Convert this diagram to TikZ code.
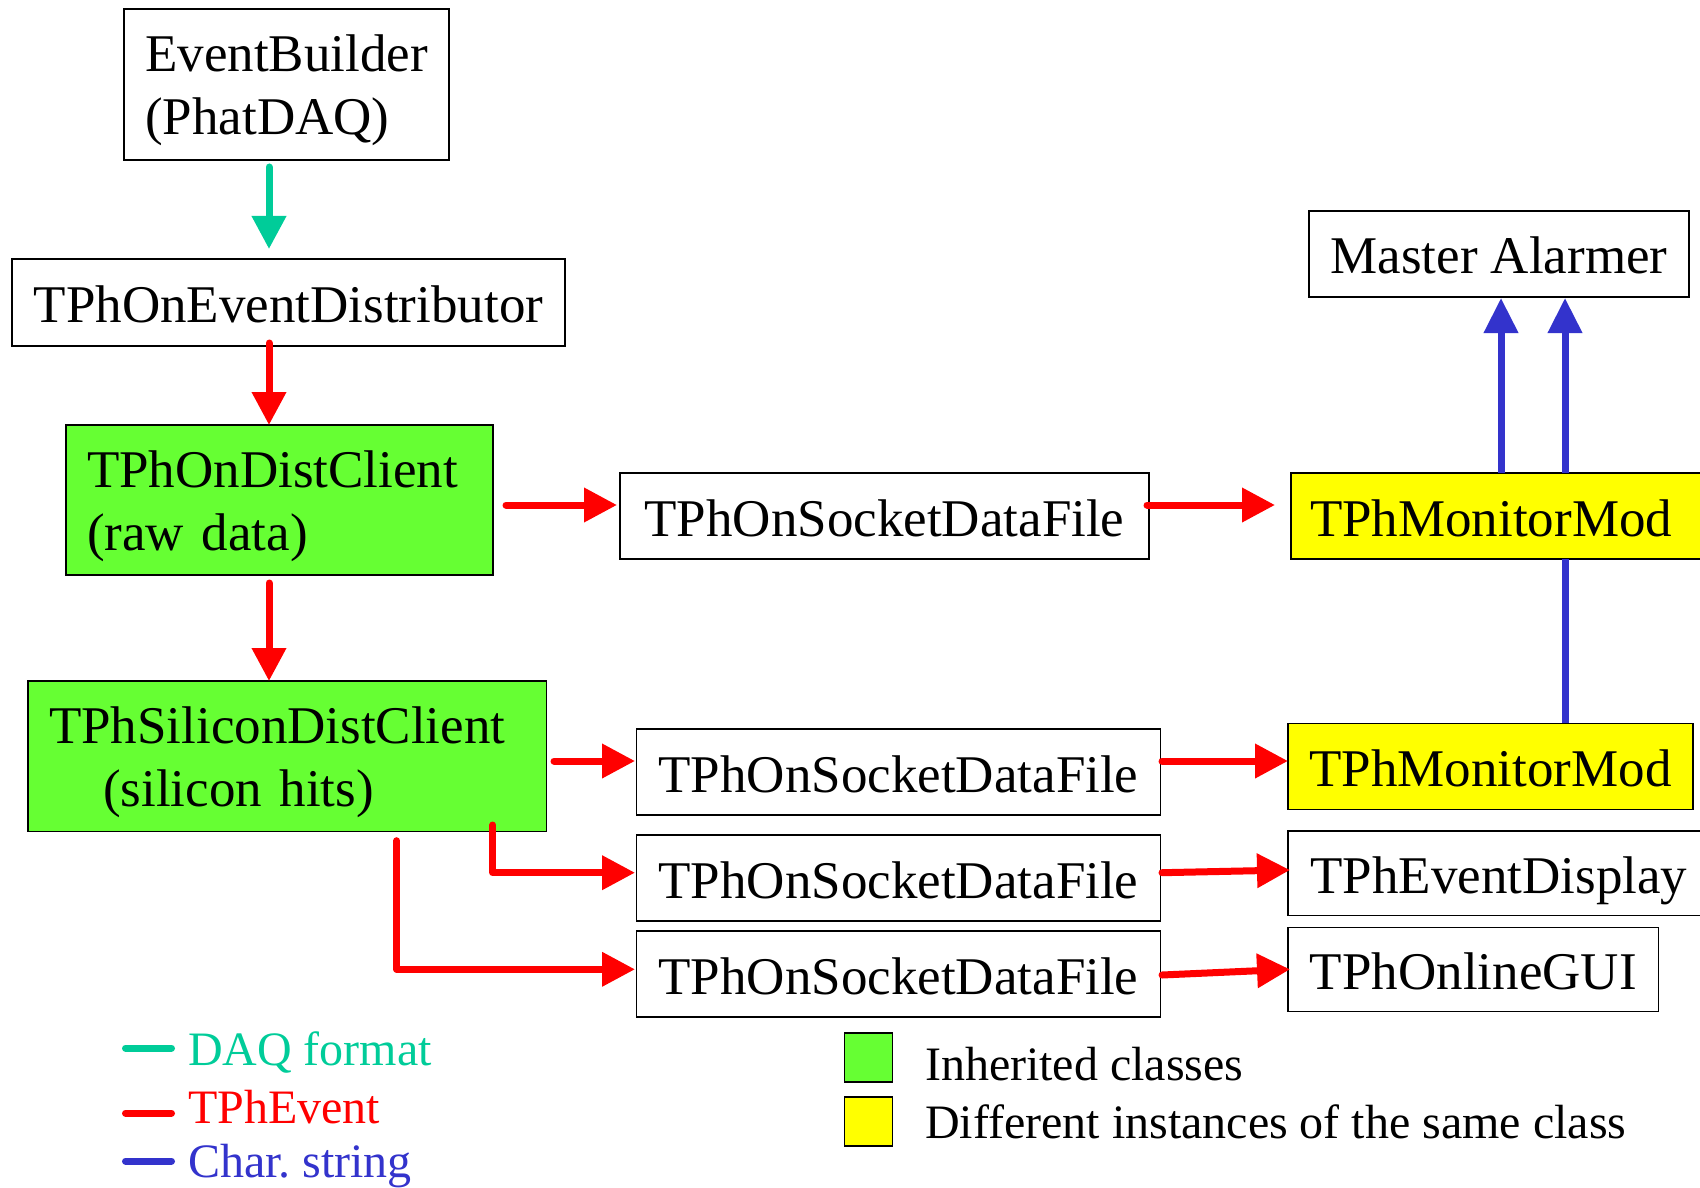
\documentclass[tikz,border=0pt]{standalone}
\usepackage{fontspec}
\setmainfont{Liberation Serif}
\usetikzlibrary{arrows.meta,calc}
\definecolor{daq}{RGB}{0,204,153}
\definecolor{evt}{RGB}{255,0,0}
\definecolor{chr}{RGB}{51,51,204}
\definecolor{inh}{RGB}{102,255,51}
\definecolor{inst}{RGB}{255,255,0}
\newcommand\mainfs{\fontsize{26.5pt}{31.5pt}\selectfont\frenchspacing}
\newcommand\legfs{\fontsize{24pt}{28pt}\selectfont\frenchspacing}
\begin{document}
\begin{tikzpicture}[x=0.5pt,y=-0.5pt,
  every node/.style={inner sep=0pt, outer sep=0pt},
  cls/.style={draw=black, line width=0.6pt, font=\mainfs, text height=20pt, text depth=0pt},
  mcls/.style={draw=black, line width=0.6pt, font=\mainfs, align=left},
  link/.style={line width=3.5pt, line cap=round, line join=round},
  bighead/.style={-{Triangle[length=16.5pt,width=16.5pt]}},
  daqarrow/.style={link, draw=daq, bighead},
  evtarrow/.style={link, draw=evt, bighead},
  chrarrow/.style={line width=3.5pt, draw=chr, -{Triangle[length=17.5pt,width=16.5pt]}},
  chrline/.style={line width=3.5pt, draw=chr},
  legtext/.style={font=\legfs, anchor=base west},
  swatch/.style={line width=3.5pt, line cap=round},
  legbox/.style={draw=black, line width=0.6pt, minimum width=24.1pt, minimum height=24.5pt}
]
\useasboundingbox (0,0) rectangle (1700,1187);

% boxes
\node[mcls, minimum width=162.5pt, minimum height=75.5pt] (eb) at (286.5,84.5)
  {\rule{0pt}{24.5pt}EventBuilder\\(PhatDAQ)\rule[-5pt]{0pt}{5pt}};
\node[cls, minimum width=276.5pt, minimum height=43.5pt] (dist) at (288.5,302.5) {TPhOnEventDistributor};
\node[mcls, fill=inh, text width=192.5pt, inner xsep=10.5pt, minimum height=75pt] (dc) at (279.5,500)
  {\rule{0pt}{24.5pt}TPhOnDistClient\\(raw data)\rule[-5pt]{0pt}{5pt}};
\node[mcls, fill=inh, text width=238.35pt, inner xsep=10.5pt, minimum height=75.25pt] (sil) at (287.35,756.25)
  {\rule{0pt}{24.5pt}TPhSiliconDistClient\\\hspace*{27pt}(silicon hits)\rule[-5pt]{0pt}{5pt}};

\node[cls, minimum width=264.5pt, minimum height=43pt] (s1) at (884.5,516) {TPhOnSocketDataFile};
\node[cls, fill=inst, text width=195.5pt, inner xsep=9.5pt, align=left, minimum height=43pt] (mon1) at (1505.5,516) {TPhMonitorMod};
\node[cls, minimum width=190pt, minimum height=43pt] (ma) at (1499,254) {Master Alarmer};

\node[cls, minimum width=262pt, minimum height=43pt] (s2) at (898.5,772) {TPhOnSocketDataFile};
\node[cls, minimum width=262pt, minimum height=43pt] (s3) at (898.5,878) {TPhOnSocketDataFile};
\node[cls, minimum width=262pt, minimum height=43pt] (s4) at (898.5,974) {TPhOnSocketDataFile};

\node[cls, fill=inst, minimum width=202.5pt, minimum height=43pt] (mon2) at (1490.5,766.3) {TPhMonitorMod};
\node[cls, minimum width=211pt, minimum height=42.25pt] (ed) at (1499,873.25) {TPhEventDisplay};
\node[cls, minimum width=185.35pt, minimum height=42.2pt] (gui) at (1473.35,969.5) {TPhOnlineGUI};

% connectors
\draw[daqarrow] ($(eb.south)+(-17.5,7)$) -- ($(dist.north)+(-19.5,-10)$);
\draw[evtarrow] ($(dist.south)+(-19.5,-3)$) -- ($(dc.north)+(-10.5,0)$);
\draw[evtarrow] ($(dc.south)+(-10.5,8)$) -- ($(sil.north)+(-18.35,0)$);
\draw[evtarrow] ($(dc.east)+(13,5)$) -- ($(s1.west)+(-3,-11)$);
\draw[evtarrow] ($(s1.east)+(-2,-11)$) -- ($(mon1.west)+(-16,-11)$);
\draw[chrarrow] ($(mon1.north)+(-4.5,0)$) -- ($(ma.south)+(2,1)$);
\draw[chrarrow] ($(mon1.north)+(59.5,0)$) -- ($(ma.south)+(66,1)$);
\draw[chrline] ($(mon2.north)+(74.5,0)$) -- ($(mon1.south)+(59.5,0)$);
\draw[evtarrow] ($(sil.east)+(7.3,4.75)$) -- ($(s2.west)+(-1.5,-11)$);
\draw[evtarrow] ($(sil.south)+(205.35,-6.5)$) |- ($(s3.west)+(-1.5,-5.3)$);
\draw[evtarrow] ($(sil.south)+(109.35,9.2)$) |- ($(s4.west)+(-1.5,-4.7)$);
\draw[evtarrow] ($(s2.east)+(1.5,-11)$) -- ($(mon2.west)+(0,-5.3)$);
\draw[evtarrow] ($(s3.east)+(1.5,-5.3)$) -- ($(ed.west)+(2,-3.25)$);
\draw[evtarrow] ($(s4.east)+(1.5,1)$) -- ($(gui.west)+(2,-0.2)$);

% legend (line colours)
\coordinate (l1a) at (125.5,1048); \coordinate (l1b) at (171.5,1048);
\coordinate (l2a) at (125.5,1113); \coordinate (l2b) at (171.5,1113);
\coordinate (l3a) at (125.5,1161); \coordinate (l3b) at (171.5,1161);
\draw[swatch, draw=daq] (l1a) -- (l1b);
\draw[swatch, draw=evt] (l2a) -- (l2b);
\draw[swatch, draw=chr] (l3a) -- (l3b);
\node[legtext, text=daq] (t1) at (188,1065) {DAQ format};
\node[legtext, text=evt] (t2) at (188,1123) {TPhEvent};
\node[legtext, text=chr] (t3) at (188,1177) {Char. string};

% legend (box colours)
\node[legbox, fill=inh] (k1) at (868.6,1057.5) {};
\node[legbox, fill=inst] (k2) at (868.6,1121.5) {};
\node[legtext] (k1t) at (925,1080) {Inherited classes};
\node[legtext] (k2t) at (925,1138) {Different instances of the same class};
\end{tikzpicture}
\end{document}
